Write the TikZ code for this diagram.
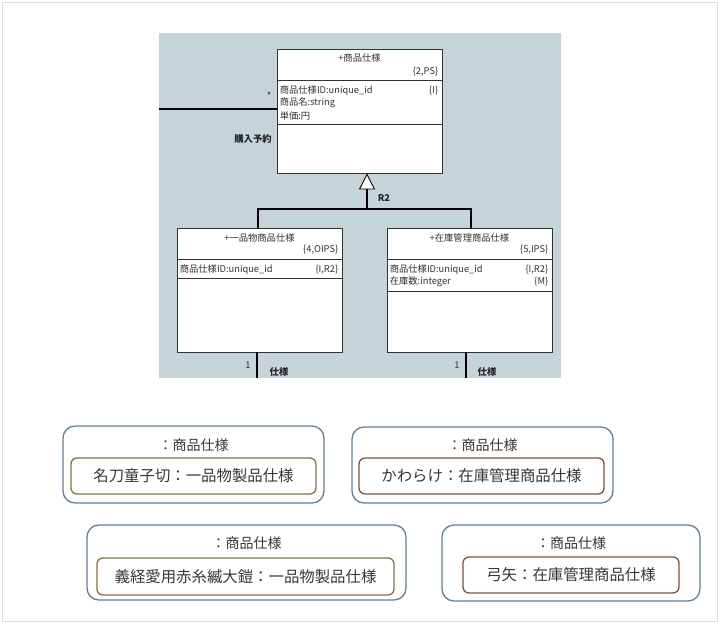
\documentclass[tikz,border=0pt]{standalone}
\usepackage{fontspec}
\setmainfont{Noto Sans CJK JP}
\usetikzlibrary{arrows.meta,calc}
\definecolor{panel}{RGB}{196,212,216}
\definecolor{umltext}{RGB}{50,50,50}
\definecolor{objblue}{RGB}{98,128,158}
\definecolor{objbrownA}{RGB}{140,112,66}
\definecolor{objbrownB}{RGB}{128,84,60}
\definecolor{objtext}{RGB}{55,55,55}
\definecolor{framegray}{RGB}{222,222,222}
\tikzset{
  cls/.style={draw=black!80, fill=white, line width=0.8pt, minimum width=165pt, minimum height=124pt, inner sep=0pt},
  divl/.style={draw=black!80, line width=0.8pt},
  umlt/.style={font=\fontsize{9.3}{11}\selectfont, text=umltext, inner sep=0pt},
  lbl/.style={font=\fontsize{9.3}{11}\selectfont\bfseries, text=black!85, inner sep=0pt},
  assoc/.style={draw=black, line width=2.6pt},
  objouter/.style={draw=objblue, line width=1.3pt, rounded corners=12pt, fill=white, inner sep=0pt},
  objinnerA/.style={draw=objbrownA, line width=1.3pt, rounded corners=6pt, fill=white, inner sep=0pt, font=\fontsize{15.4}{17}\selectfont, text=objtext},
  objinnerB/.style={draw=objbrownB, line width=1.3pt, rounded corners=6pt, fill=white, inner sep=0pt, font=\fontsize{15.4}{17}\selectfont, text=objtext},
  objtitle/.style={font=\fontsize{14}{16}\selectfont, text=objtext, inner sep=0pt}
}
\begin{document}
\begin{tikzpicture}[x=1pt,y=-1pt]
\useasboundingbox (0,0) rectangle (720,624);
\draw[framegray, line width=1.2pt] (2.5,2.5) rectangle (717.5,621.5);
\fill[panel] (159,33) rectangle (561,378);

% class boxes
\node[cls] (ps) at (359.5,111) {};
\node[cls] (op) at (259.5,290) {};
\node[cls] (ip) at (469.5,290) {};

% dividers
\draw[divl] ($(ps.north west)+(0,32)$) -- ($(ps.north east)+(0,32)$);
\draw[divl] ($(ps.north west)+(0,76)$) -- ($(ps.north east)+(0,76)$);
\draw[divl] ($(op.north west)+(0,32)$) -- ($(op.north east)+(0,32)$);
\draw[divl] ($(op.north west)+(0,51)$) -- ($(op.north east)+(0,51)$);
\draw[divl] ($(ip.north west)+(0,32)$) -- ($(ip.north east)+(0,32)$);
\draw[divl] ($(ip.north west)+(0,64)$) -- ($(ip.north east)+(0,64)$);

% class texts
\node[umlt] (pst) at ($(ps.north)+(0,9.5)$) {+商品仕様};
\node[umlt, anchor=east] (psk) at ($(ps.north east)+(-4,23)$) {\{2,PS\}};
\node[umlt, anchor=west] (psa1) at ($(ps.north west)+(3,42)$) {商品仕様ID:unique\_id};
\node[umlt, anchor=east] (psa1k) at ($(ps.north east)+(-4,42)$) {\{I\}};
\node[umlt, anchor=west] (psa2) at ($(ps.north west)+(3,54)$) {商品名:string};
\node[umlt, anchor=west] (psa3) at ($(ps.north west)+(3,67)$) {単価:円};

\node[umlt] (opt) at ($(op.north)+(0,10)$) {+一品物商品仕様};
\node[umlt, anchor=east] (opk) at ($(op.north east)+(-4,22)$) {\{4,OIPS\}};
\node[umlt, anchor=west] (opa1) at ($(op.north west)+(3,42)$) {商品仕様ID:unique\_id};
\node[umlt, anchor=east] (opa1k) at ($(op.north east)+(-4,42)$) {\{I,R2\}};

\node[umlt] (ipt) at ($(ip.north)+(0,10)$) {+在庫管理商品仕様};
\node[umlt, anchor=east] (ipk) at ($(ip.north east)+(-4,22)$) {\{5,IPS\}};
\node[umlt, anchor=west] (ipa1) at ($(ip.north west)+(3,42)$) {商品仕様ID:unique\_id};
\node[umlt, anchor=east] (ipa1k) at ($(ip.north east)+(-4,42)$) {\{I,R2\}};
\node[umlt, anchor=west] (ipa2) at ($(ip.north west)+(3,54)$) {在庫数:integer};
\node[umlt, anchor=east] (ipa2k) at ($(ip.north east)+(-4,54)$) {\{M\}};

% generalization
\coordinate (gen) at (367,209);
\coordinate (opin) at (258,209);
\coordinate (ipin) at (471,209);
\draw[assoc] (op.north -| opin) -- (opin) -- (ipin) -- (ip.north -| ipin);
\draw[assoc, -{Triangle[length=16pt,width=16pt,fill=white,line width=0.9pt]}] (gen) -- (ps.south -| gen);
\node[lbl] (r2) at (384,198) {R2};

% association to the left
\coordinate (assocend) at (159,109);
\draw[assoc] (assocend) -- (assocend -| ps.west);
\node[umlt] (star) at (269,96) {*};
\node[lbl] (buy) at (253,139) {購入予約};

% associations below
\coordinate (opend) at (257,378);
\coordinate (ipend) at (466,378);
\draw[assoc] (op.south -| opend) -- (opend);
\draw[assoc] (ip.south -| ipend) -- (ipend);
\node[umlt] (op1) at (248,365) {1};
\node[lbl] (opsp) at (279,372) {仕様};
\node[umlt] (ip1) at (457,365) {1};
\node[lbl] (ipsp) at (487,372) {仕様};

% object boxes
\node[objouter, minimum width=261pt, minimum height=77pt] (o1) at (193.5,464.5) {};
\node[objtitle] (o1t) at (193.5,445) {：商品仕様};
\node[objinnerA, minimum width=245pt, minimum height=36pt] (o1i) at (193.5,476) {名刀童子切：一品物製品仕様};

\node[objouter, minimum width=261pt, minimum height=76pt] (o2) at (482.5,465) {};
\node[objtitle] (o2t) at (482.5,445) {：商品仕様};
\node[objinnerB, minimum width=245pt, minimum height=36pt] (o2i) at (481.5,476) {かわらけ：在庫管理商品仕様};

\node[objouter, minimum width=319pt, minimum height=75pt] (o3) at (246.5,562.5) {};
\node[objtitle] (o3t) at (246.5,543) {：商品仕様};
\node[objinnerA, minimum width=297pt, minimum height=37pt] (o3i) at (245.5,576.5) {義経愛用赤糸縅大鎧：一品物製品仕様};

\node[objouter, minimum width=258pt, minimum height=76pt] (o4) at (571,563) {};
\node[objtitle] (o4t) at (571,543) {：商品仕様};
\node[objinnerB, minimum width=216pt, minimum height=36pt] (o4i) at (571,575) {弓矢：在庫管理商品仕様};
\end{tikzpicture}
\end{document}
